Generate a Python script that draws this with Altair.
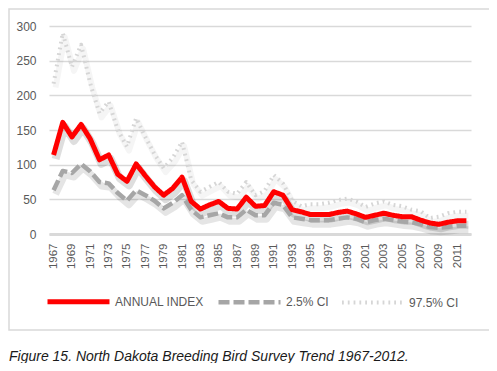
import altair as alt
import pandas as pd

years = list(range(1967, 2013))
annual_index = [114, 161, 140, 158, 137, 107, 114, 86, 76, 101,
                84, 68, 56, 66, 82, 47, 36, 42, 47, 37,
                36, 53, 40, 41, 61, 56, 35, 32, 28, 28,
                28, 31, 33, 29, 24, 27, 30, 27, 25, 25,
                20, 16, 14, 17, 19, 19]
ci_low = [63, 91, 88, 101, 90, 75, 73, 59, 48, 63,
          56, 48, 37, 45, 56, 35, 24, 27, 30, 24,
          24, 35, 27, 27, 45, 42, 24, 22, 20, 20,
          20, 22, 24, 22, 17, 20, 22, 20, 18, 17,
          14, 10, 9, 10, 12, 12]
ci_high = [217, 290, 241, 273, 217, 174, 191, 150, 126, 167,
           140, 115, 95, 110, 133, 78, 61, 68, 75, 61,
           58, 75, 56, 62, 85, 73, 48, 40, 43, 43,
           45, 49, 51, 47, 39, 44, 47, 42, 40, 35,
           33, 23, 25, 30, 32, 32]
series_names = ["ANNUAL INDEX", "2.5% CI", "97.5% CI"]
y_ticks = [0, 50, 100, 150, 200, 250, 300]
x_ticks = list(range(1967, 2012, 2))
caption = "Figure 15. North Dakota Breeding Bird Survey Trend 1967-2012."

rows = []
for name, vals in zip(series_names, [annual_index, ci_low, ci_high]):
    for yr, v in zip(years, vals):
        rows.append({"year": yr, "series": name, "value": v})
df = pd.DataFrame(rows)

FONT = "Liberation Sans"
W, H = 422, 208

x_enc = alt.X("year:Q", scale=alt.Scale(domain=[1966.5, 2012.5], nice=False, zero=False),
              axis=alt.Axis(values=x_ticks, format="d", labelAngle=-90, title=None,
                            ticks=False, grid=False, domain=True, domainColor="#d9d9d9",
                            domainWidth=3, labelPadding=9, labelFontSize=11.5,
                            labelColor="#595959", labelFont=FONT, labelOverlap=False))
y_enc = alt.Y("value:Q", scale=alt.Scale(domain=[0, 300], nice=False),
              axis=alt.Axis(values=y_ticks, title=None, ticks=False, domain=False,
                            grid=True, gridColor="#d9d9d9", gridWidth=1.5,
                            labelPadding=13, labelFontSize=12, labelColor="#595959",
                            labelFont=FONT, labelOverlap=False))

color_scale = alt.Scale(domain=series_names, range=["#ff0000", "#a6a6a6", "#d6d6d6"])
dash_scale = alt.Scale(domain=series_names, range=[[1, 0], [11, 4], [1.8, 4]])
width_scale = alt.Scale(domain=series_names, range=[5, 4, 3])

legend = alt.Legend(title=None, orient="none", legendX=-4, legendY=242,
                    direction="horizontal", symbolType="stroke", symbolSize=3844,
                    labelFontSize=12, labelColor="#595959", labelFont=FONT,
                    labelOffset=3, columnPadding=5, padding=0)

base = alt.Chart(df).mark_line(strokeJoin="round").encode(
    x=x_enc,
    y=y_enc,
    color=alt.Color("series:N", scale=color_scale, legend=legend),
    strokeDash=alt.StrokeDash("series:N", scale=dash_scale, legend=legend),
    strokeWidth=alt.StrokeWidth("series:N", scale=width_scale, legend=legend),
)

shadows = []
for name, op, sw in [("97.5% CI", 0.04, 6), ("2.5% CI", 0.1, 7), ("ANNUAL INDEX", 0.13, 8)]:
    shadows.append(
        alt.Chart(df).transform_filter(alt.datum.series == name)
        .mark_line(color="#000000", opacity=op, strokeWidth=sw, xOffset=2, yOffset=4,
                   strokeJoin="round")
        .encode(x=x_enc, y=y_enc)
    )

lines = [base.transform_filter(alt.datum.series == s) for s in ["97.5% CI", "2.5% CI", "ANNUAL INDEX"]]

frame = alt.Chart(pd.DataFrame({"k": [0]})).mark_rect(
    fill=None, stroke="#d9d9d9", strokeWidth=1.5
).encode(x=alt.value(-40), x2=alt.value(442), y=alt.value(-17), y2=alt.value(304))

cap = alt.Chart(pd.DataFrame({"caption": [caption]})).mark_text(
    align="left", baseline="alphabetic", font=FONT, fontStyle="italic",
    fontSize=14, color="#1a1a1a"
).encode(text="caption:N", x=alt.value(-40), y=alt.value(335))

chart = alt.layer(frame, *shadows, *lines, cap).properties(
    width=W, height=H,
    autosize=alt.AutoSizeParams(type="none"),
    padding={"left": 41, "top": 18, "right": 18, "bottom": 129},
    background="white",
).configure_view(stroke=None)

chart.save("out.html", embed_options={"renderer": "svg", "actions": False})
